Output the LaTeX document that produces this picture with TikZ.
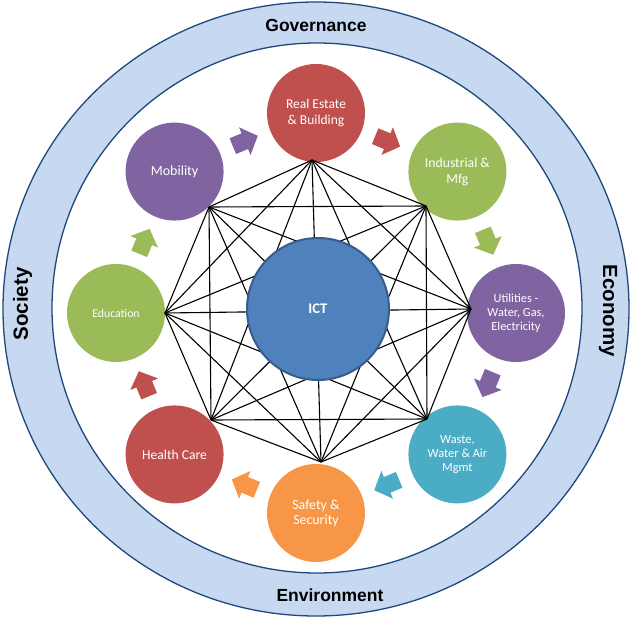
\documentclass[tikz,border=0pt]{standalone}
\usepackage{fontspec}
\setmainfont{Carlito}
\newfontfamily\ringfont{Liberation Sans}
\definecolor{cred}{HTML}{C0504D}
\definecolor{cgreen}{HTML}{9BBB59}
\definecolor{cpurple}{HTML}{8064A2}
\definecolor{ccyan}{HTML}{4BACC6}
\definecolor{corange}{HTML}{F79646}
\definecolor{cblue}{HTML}{4F81BD}
\definecolor{cblueline}{HTML}{385D8A}
\definecolor{ringfill}{HTML}{C6D9F1}
\definecolor{ringline}{HTML}{1F497D}
\begin{document}
\begin{tikzpicture}[x=1pt,y=1pt,
  bub/.style={circle, minimum size=98, inner sep=0pt, text=white, align=center},
  ringlab/.style={font=\ringfont\bfseries\fontsize{17.5}{20}\selectfont, inner sep=0pt},
  sidelab/.style={font=\ringfont\bfseries\fontsize{20.5}{24}\selectfont, inner sep=0pt, anchor=base},
  link/.style={black, line width=1.1},
  blockarrow/.style={line width=0pt}]
\useasboundingbox (-316,-305) rectangle (315,313);
% outer ring
\fill[ringfill, even odd rule] (0,4) ellipse [x radius=313, y radius=307] (1,5) circle [radius=265];
\draw[ringline, line width=1.3] (0,4) ellipse [x radius=313, y radius=307];
\draw[ringline, line width=1.3] (1,5) circle [radius=265];
\node[ringlab] (gov) at (0,288) {Governance};
\node[ringlab] (env) at (14,-282) {Environment};
\node[sidelab, rotate=90] (soc) at (-288,9) {Society};
\node[sidelab, rotate=-90] (eco) at (287,2) {Economy};
% outer circles
\node[bub, fill=cred, font=\fontsize{13.5}{15.7}\selectfont] (re) at (90:200) {Real Estate\\\& Building};
\node[bub, fill=cgreen, font=\fontsize{13.7}{15.7}\selectfont] (ind) at (45:200) {Industrial \&\\Mfg};
\node[bub, fill=cpurple, font=\fontsize{12.3}{13.8}\selectfont] (util) at (0:200) {Utilities -\\Water, Gas,\\Electricity};
\node[bub, fill=ccyan, font=\fontsize{12.4}{14}\selectfont] (waste) at (-45:200) {Waste,\\Water \& Air\\Mgmt};
\node[bub, fill=corange, font=\fontsize{13.9}{15}\selectfont] (safe) at (-90:200) {Safety \&\\Security};
\node[bub, fill=cred, font=\fontsize{13.6}{15.5}\selectfont] (health) at (-135:200) {Health Care};
\node[bub, fill=cgreen, font=\fontsize{11.8}{14}\selectfont] (edu) at (180:200) {Education};
\node[bub, fill=cpurple, font=\fontsize{14}{16}\selectfont] (mob) at (135:200) {Mobility};
% network vertices
\coordinate (v1) at (-4,153);
\coordinate (v2) at (110,107);
\coordinate (v3) at (155,4);
\coordinate (v4) at (111,-106);
\coordinate (v5) at (5,-149);
\coordinate (v6) at (-105,-107);
\coordinate (v7) at (-151,0);
\coordinate (v8) at (-107,106);
\foreach \i [evaluate=\i as \n using {int(\i+1)}] in {1,...,7}
  \foreach \j in {\n,...,8}
    \draw[link] (v\i) -- (v\j);
% centre
\node[circle, minimum size=142, inner sep=0pt, fill=cblue, draw=cblueline, line width=2,
      text=white, font=\bfseries\fontsize{14.7}{17}\selectfont] (ict) at (2,4) {ICT};
% block arrows between the circles
\foreach \a/\c in {112.5/cpurple, 67.5/cred, 22.5/cgreen, -22.5/cpurple,
                   -67.5/ccyan, -112.5/corange, -157.5/cred, 157.5/cgreen}
  \fill[\c, shift={(\a:186)}, rotate=\a-90]
    (-13,-8.5) -- (0,-8.5) -- (0,-15) -- (14,0) -- (0,15) -- (0,8.5) -- (-13,8.5) -- cycle;
\end{tikzpicture}
\end{document}
